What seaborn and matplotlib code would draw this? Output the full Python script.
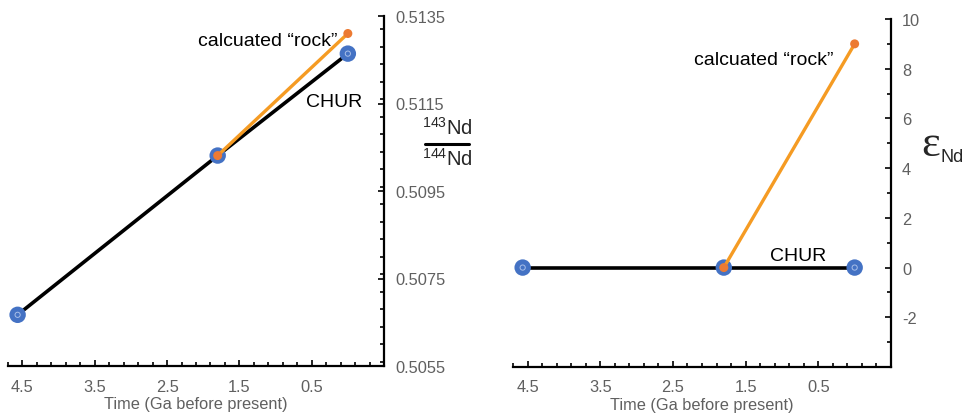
import numpy as np
import pandas as pd
import matplotlib
matplotlib.use("Agg")
import matplotlib.pyplot as plt
from matplotlib.ticker import MultipleLocator, FixedLocator
import seaborn as sns

# ---- data ----
time_chur = [4.567, 1.8, 0.0]
nd_chur = [0.50667, 0.51031, 0.51264]
time_rock = [1.8, 0.0]
nd_rock = [0.51031, 0.51310]
eps_chur = [0.0, 0.0, 0.0]
eps_rock = [0.0, 9.0]
x_major = [4.5, 3.5, 2.5, 1.5, 0.5]
x_labels = ["4.5", "3.5", "2.5", "1.5", "0.5"]
nd_major = [0.5055, 0.5075, 0.5095, 0.5115, 0.5135]
eps_major = [-2, 0, 2, 4, 6, 8, 10]

sns.set_style("white")
plt.rcParams["font.family"] = ["Liberation Sans", "DejaVu Sans"]
plt.rcParams["mathtext.fontset"] = "custom"
plt.rcParams["mathtext.rm"] = "Liberation Sans"
plt.rcParams["mathtext.it"] = "Liberation Sans:italic"
plt.rcParams["mathtext.bf"] = "Liberation Sans:bold"

BLUE = "#4472c4"
INNER = "#a9bfe8"
ORANGE_L = "#f59b23"
ORANGE_M = "#ec7a32"
GRAY = "#606060"

chur_nd = pd.DataFrame({"t": time_chur, "v": nd_chur})
rock_nd = pd.DataFrame({"t": time_rock, "v": nd_rock})
chur_eps = pd.DataFrame({"t": time_chur, "v": eps_chur})
rock_eps = pd.DataFrame({"t": time_rock, "v": eps_rock})

fig = plt.figure(figsize=(9.68, 4.14), dpi=100)
ax1 = fig.add_axes([8/968, 1-367/414, 376/968, 350/414])
ax2 = fig.add_axes([513/968, 1-368/414, 378/968, 348/414])


def draw(ax, chur, rock):
    sns.lineplot(data=chur, x="t", y="v", ax=ax, color="black", lw=2.6,
                 sort=False, zorder=2, estimator=None)
    sns.scatterplot(data=chur, x="t", y="v", ax=ax, color=BLUE, s=140,
                    edgecolor="none", zorder=3)
    sns.scatterplot(data=chur, x="t", y="v", ax=ax, s=14, facecolor="none",
                    edgecolor=INNER, linewidth=0.7, zorder=3.5)
    sns.lineplot(data=rock, x="t", y="v", ax=ax, color=ORANGE_L, lw=2.4,
                 sort=False, zorder=4, estimator=None)
    sns.scatterplot(data=rock, x="t", y="v", ax=ax, color=ORANGE_M, s=42,
                    edgecolor="none", zorder=5)
    ax.set_xlim(4.7, -0.5)
    ax.xaxis.set_major_locator(FixedLocator(x_major))
    ax.set_xticklabels(x_labels)
    ax.xaxis.set_minor_locator(FixedLocator(np.round(np.arange(-0.5, 4.71, 0.2), 2)))
    ax.set_xlabel("Time (Ga before present)", fontsize=11.8, color=GRAY, labelpad=2)
    ax.set_ylabel("")
    for s in ["top", "left"]:
        ax.spines[s].set_visible(False)
    for s in ["bottom", "right"]:
        ax.spines[s].set_color("black")
        ax.spines[s].set_linewidth(1.6)
    ax.yaxis.tick_right()
    ax.tick_params(which="both", direction="in", color="black", width=1.2,
                   labelsize=11.8, labelcolor=GRAY, left=False, top=False,
                   right=True, bottom=True)
    ax.tick_params(which="major", length=4.5)
    ax.tick_params(which="minor", length=3)
    ax.tick_params(axis="x", pad=9)
    ax.tick_params(axis="y", pad=8)
    ax.grid(False)
    ax.set_facecolor("white")


draw(ax1, chur_nd, rock_nd)
ax1.set_ylim(0.5055, 0.5135)
ax1.yaxis.set_major_locator(FixedLocator(nd_major))
ax1.yaxis.set_minor_locator(MultipleLocator(0.0004))
ax1.set_yticklabels([f"{v:.4f}" for v in nd_major])
ax1.text(0.875, 0.929, "calcuated \u201crock\u201d", transform=ax1.transAxes,
         ha="right", va="center", fontsize=14, color="black")
ax1.text(0.868, 0.757, "CHUR", transform=ax1.transAxes,
         ha="center", va="center", fontsize=14, color="black")

draw(ax2, chur_eps, rock_eps)
ax2.set_ylim(-4, 10)
ax2.yaxis.set_major_locator(FixedLocator(eps_major))
ax2.yaxis.set_minor_locator(MultipleLocator(1))
ax2.set_yticklabels([str(v) for v in eps_major])
ax2.text(0.849, 0.885, "calcuated \u201crock\u201d", transform=ax2.transAxes,
         ha="right", va="center", fontsize=14, color="black")
ax2.text(0.755, 0.319, "CHUR", transform=ax2.transAxes,
         ha="center", va="center", fontsize=14, color="black")

# fraction y-label for left panel
fig.text(447/968, 1-128/414, "$^{143}$Nd", ha="center", va="center", fontsize=14.5)
fig.text(447/968, 1-159/414, "$^{144}$Nd", ha="center", va="center", fontsize=14.5)
fig.add_artist(plt.Line2D([425/968, 469/968], [1-145/414, 1-145/414],
                          color="black", lw=2.2, transform=fig.transFigure))

# epsilon label for right panel
fig.text(931/968, 1-145/414, "\u03b5", ha="center", va="center", fontsize=32,
         family=["Liberation Serif", "DejaVu Serif"])
fig.text(941/968, 1-158/414, "Nd", ha="left", va="center", fontsize=13)

fig.savefig("out.png", dpi=100, facecolor="white")
